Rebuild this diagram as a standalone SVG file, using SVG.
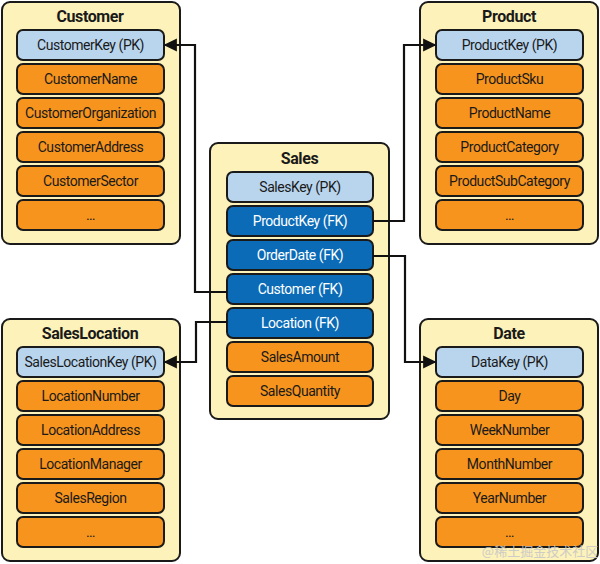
<svg xmlns="http://www.w3.org/2000/svg" width="600" height="564" viewBox="0 0 600 564">
<defs>
<style>
.tbl{fill:#fdf2b9;stroke:#1a1a1a;stroke-width:2}
.row{stroke:#1a1a1a;stroke-width:2}
.pk{fill:#b9d5ee}
.fk{fill:#0b6bb7}
.at{fill:#f7941d}
.title{font-family:Roboto,"Liberation Sans",sans-serif;font-size:16px;font-weight:bold;fill:#1a1a1a;text-anchor:middle;letter-spacing:-0.4px}
.lbl{font-family:Roboto,"Liberation Sans",sans-serif;font-size:14px;fill:#1a1a1a;text-anchor:middle;dominant-baseline:central;letter-spacing:-0.45px}
.wl{fill:#ffffff}
.conn{fill:none;stroke:#111;stroke-width:2.2}
</style>
<marker id="arr" viewBox="0 0 10 10" refX="9" refY="5" markerWidth="6" markerHeight="6" orient="auto-start-reverse" markerUnits="strokeWidth">
<path d="M0,0 L10,5 L0,10 z" fill="#111"/>
</marker>
</defs>
<rect width="600" height="564" fill="#ffffff"/>

<g id="customer">
<rect class="tbl" x="2" y="2" width="178" height="242" rx="8"/>
<text class="title" x="90" y="22">Customer</text>
<rect class="row pk" x="17" y="30" width="147" height="30" rx="6"/><text class="lbl" x="90.5" y="45">CustomerKey (PK)</text>
<rect class="row at" x="17" y="64" width="147" height="30" rx="6"/><text class="lbl" x="90.5" y="79">CustomerName</text>
<rect class="row at" x="17" y="98" width="147" height="30" rx="6"/><text class="lbl" x="90.5" y="113">CustomerOrganization</text>
<rect class="row at" x="17" y="132" width="147" height="30" rx="6"/><text class="lbl" x="90.5" y="147">CustomerAddress</text>
<rect class="row at" x="17" y="166" width="147" height="30" rx="6"/><text class="lbl" x="90.5" y="181">CustomerSector</text>
<rect class="row at" x="17" y="200" width="147" height="30" rx="6"/><text class="lbl" x="90.5" y="215">…</text>
</g>

<g id="product">
<rect class="tbl" x="420" y="2" width="178" height="242" rx="8"/>
<text class="title" x="509" y="22">Product</text>
<rect class="row pk" x="436" y="30" width="147" height="30" rx="6"/><text class="lbl" x="509.5" y="45">ProductKey (PK)</text>
<rect class="row at" x="436" y="64" width="147" height="30" rx="6"/><text class="lbl" x="509.5" y="79">ProductSku</text>
<rect class="row at" x="436" y="98" width="147" height="30" rx="6"/><text class="lbl" x="509.5" y="113">ProductName</text>
<rect class="row at" x="436" y="132" width="147" height="30" rx="6"/><text class="lbl" x="509.5" y="147">ProductCategory</text>
<rect class="row at" x="436" y="166" width="147" height="30" rx="6"/><text class="lbl" x="509.5" y="181">ProductSubCategory</text>
<rect class="row at" x="436" y="200" width="147" height="30" rx="6"/><text class="lbl" x="509.5" y="215">…</text>
</g>

<g id="sales">
<rect class="tbl" x="210" y="143" width="179" height="276" rx="8"/>
<text class="title" x="299.5" y="164">Sales</text>
<rect class="row pk" x="227" y="172" width="146" height="30" rx="6"/><text class="lbl" x="300" y="187">SalesKey (PK)</text>
<rect class="row fk" x="227" y="206" width="146" height="30" rx="6"/><text class="lbl wl" x="300" y="221">ProductKey (FK)</text>
<rect class="row fk" x="227" y="240" width="146" height="30" rx="6"/><text class="lbl wl" x="300" y="255">OrderDate (FK)</text>
<rect class="row fk" x="227" y="274" width="146" height="30" rx="6"/><text class="lbl wl" x="300" y="289">Customer (FK)</text>
<rect class="row fk" x="227" y="308" width="146" height="30" rx="6"/><text class="lbl wl" x="300" y="323">Location (FK)</text>
<rect class="row at" x="227" y="342" width="146" height="30" rx="6"/><text class="lbl" x="300" y="357">SalesAmount</text>
<rect class="row at" x="227" y="376" width="146" height="30" rx="6"/><text class="lbl" x="300" y="391">SalesQuantity</text>
</g>

<g id="saleslocation">
<rect class="tbl" x="2" y="319" width="178" height="242" rx="8"/>
<text class="title" x="90" y="339">SalesLocation</text>
<rect class="row pk" x="17" y="347" width="147" height="30" rx="6"/><text class="lbl" x="90.5" y="362">SalesLocationKey (PK)</text>
<rect class="row at" x="17" y="381" width="147" height="30" rx="6"/><text class="lbl" x="90.5" y="396">LocationNumber</text>
<rect class="row at" x="17" y="415" width="147" height="30" rx="6"/><text class="lbl" x="90.5" y="430">LocationAddress</text>
<rect class="row at" x="17" y="449" width="147" height="30" rx="6"/><text class="lbl" x="90.5" y="464">LocationManager</text>
<rect class="row at" x="17" y="483" width="147" height="30" rx="6"/><text class="lbl" x="90.5" y="498">SalesRegion</text>
<rect class="row at" x="17" y="517" width="147" height="30" rx="6"/><text class="lbl" x="90.5" y="532">…</text>
</g>

<g id="date">
<rect class="tbl" x="420" y="319" width="178" height="242" rx="8"/>
<text class="title" x="509" y="339">Date</text>
<rect class="row pk" x="436" y="347" width="147" height="30" rx="6"/><text class="lbl" x="509.5" y="362">DataKey (PK)</text>
<rect class="row at" x="436" y="381" width="147" height="30" rx="6"/><text class="lbl" x="509.5" y="396">Day</text>
<rect class="row at" x="436" y="415" width="147" height="30" rx="6"/><text class="lbl" x="509.5" y="430">WeekNumber</text>
<rect class="row at" x="436" y="449" width="147" height="30" rx="6"/><text class="lbl" x="509.5" y="464">MonthNumber</text>
<rect class="row at" x="436" y="483" width="147" height="30" rx="6"/><text class="lbl" x="509.5" y="498">YearNumber</text>
<rect class="row at" x="436" y="517" width="147" height="30" rx="6"/><text class="lbl" x="509.5" y="532">…</text>
</g>

<g id="connectors">
<path class="conn" d="M227,292 H195 V45 H165" marker-end="url(#arr)"/>
<path class="conn" d="M227,322 H196 V362 H165" marker-end="url(#arr)"/>
<path class="conn" d="M373,221 H404 V45 H435" marker-end="url(#arr)"/>
<path class="conn" d="M373,256 H405 V362 H435" marker-end="url(#arr)"/>
</g>

<text x="540" y="556" font-family="'Noto Sans CJK SC',sans-serif" font-size="13" fill="#c8c8c8" text-anchor="middle" opacity="0.9">@稀土掘金技术社区</text>
</svg>
